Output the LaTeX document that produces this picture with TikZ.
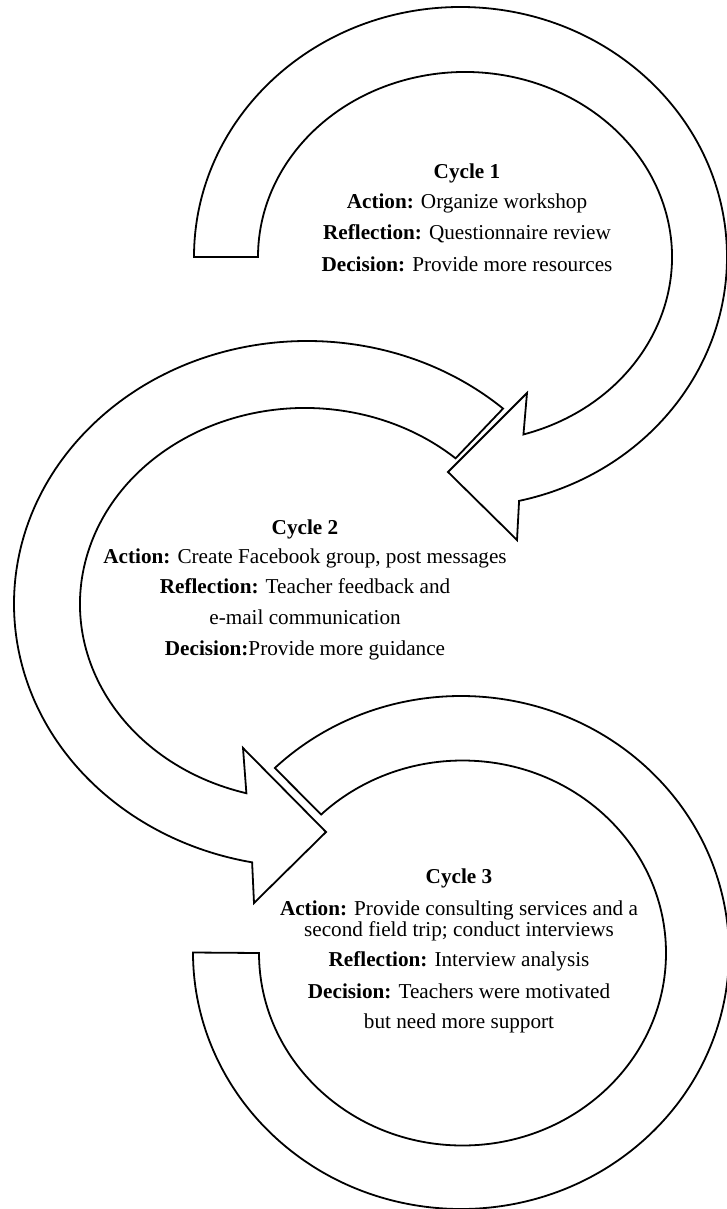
\documentclass[tikz,border=0pt]{standalone}
\usepackage{fontspec}
\setmainfont{Liberation Serif}
\begin{document}
\begin{tikzpicture}[x=1pt,y=-1pt,
  band/.style={draw=black,line width=1.8pt,fill=white,line join=miter},
  lbl/.style={font=\fontsize{21.2}{25}\selectfont,anchor=base,inner sep=0pt}]
\useasboundingbox (0,0) rectangle (727,1209);

% Cycle 2 arrow
\draw[band] ([shift={(307,604)}]-48:293 and 263)
  arc[start angle=-48,end angle=-259.2,x radius=293,y radius=263]
  -- (254,903) -- (326,832) -- (243,748)
  -- ([shift={(305,604)}]-254.9:225 and 196)
  arc[start angle=-254.9,end angle=-48,x radius=225,y radius=196] -- cycle;

% Cycle 1 arrow
\draw[band] ([shift={(460.5,257)}]180:266.5 and 250)
  arc[start angle=180,end angle=437.3,x radius=266.5,y radius=250]
  -- (517,540) -- (448,472) -- (527,393)
  -- ([shift={(465,257)}]433.6:207 and 185)
  arc[start angle=433.6,end angle=180,x radius=207,y radius=185] -- cycle;

% Cycle 3 band
\draw[band] ([shift={(461,952.5)}]226:268 and 256.5)
  arc[start angle=226,end angle=540,x radius=268,y radius=256.5]
  -- ([shift={(462.5,953)}]540:203.5 and 192.5)
  arc[start angle=540,end angle=226,x radius=203.5,y radius=192.5] -- cycle;

% Cycle 1 text
\node[lbl] (c1t) at (467,178.5) {\textbf{Cycle 1}};
\node[lbl] (c1a) at (467,208.5) {\textbf{Action:} Organize workshop};
\node[lbl] (c1r) at (467,239.5) {\textbf{Reflection:} Questionnaire review};
\node[lbl] (c1d) at (467,271.5) {\textbf{Decision:} Provide more resources};

% Cycle 2 text
\node[lbl] (c2t) at (305,534.5) {\textbf{Cycle 2}};
\node[lbl] (c2a) at (305,563.5) {\textbf{Action:} Create Facebook group, post messages};
\node[lbl] (c2r) at (305,593.5) {\textbf{Reflection:} Teacher feedback and};
\node[lbl] (c2e) at (305,624.5) {e-mail communication};
\node[lbl] (c2d) at (305,655.5) {\textbf{Decision:}Provide more guidance};

% Cycle 3 text
\node[lbl] (c3t) at (459,883.5) {\textbf{Cycle 3}};
\node[lbl] (c3a) at (459,915.5) {\textbf{Action:} Provide consulting services and a};
\node[lbl] (c3b) at (459,936.5) {second field trip; conduct interviews};
\node[lbl] (c3r) at (459,966.5) {\textbf{Reflection:} Interview analysis};
\node[lbl] (c3d) at (459,998.5) {\textbf{Decision:} Teachers were motivated};
\node[lbl] (c3e) at (459,1028.5) {but need more support};
\end{tikzpicture}
\end{document}
